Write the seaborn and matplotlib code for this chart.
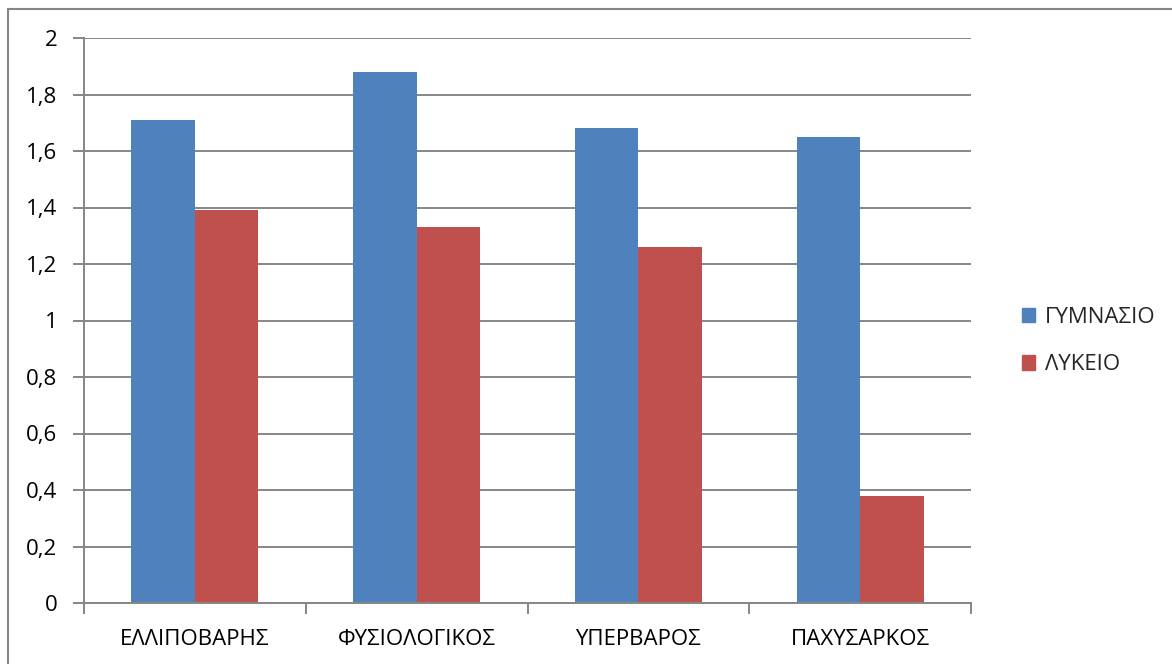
import matplotlib
matplotlib.use("Agg")
import matplotlib.pyplot as plt
from matplotlib.lines import Line2D
import pandas as pd
import seaborn as sns

categories = ["ΕΛΛΙΠΟΒΑΡΗΣ", "ΦΥΣΙΟΛΟΓΙΚΟΣ", "ΥΠΕΡΒΑΡΟΣ", "ΠΑΧΥΣΑΡΚΟΣ"]
gymnasio = [1.71, 1.88, 1.68, 1.65]
lykeio = [1.39, 1.33, 1.26, 0.38]
series_names = ["ΓΥΜΝΑΣΙΟ", "ΛΥΚΕΙΟ"]
series_colors = ["#4F81BD", "#C0504D"]
yticks = [0, 0.2, 0.4, 0.6, 0.8, 1.0, 1.2, 1.4, 1.6, 1.8, 2.0]
ytick_labels = ["0", "0,2", "0,4", "0,6", "0,8", "1", "1,2", "1,4", "1,6", "1,8", "2"]

df = pd.DataFrame({
    "category": categories * 2,
    "value": gymnasio + lykeio,
    "series": [series_names[0]] * len(categories) + [series_names[1]] * len(categories),
})

sns.set_theme(style="white")
plt.rcParams["font.family"] = ["Open Sans", "DejaVu Sans"]

fig = plt.figure(figsize=(11.72, 6.64), dpi=100)
ax = fig.add_axes([84 / 1172, 1 - 603 / 664, (971 - 84) / 1172, (603 - 38) / 664])

grid_color = "#868686"
fs = 16
ax.set_axisbelow(True)
ax.yaxis.grid(True, color=grid_color, linewidth=1.4)

sns.barplot(data=df, x="category", y="value", hue="series", order=categories,
            hue_order=series_names, palette=series_colors, width=0.573,
            saturation=1, edgecolor="none", linewidth=0, ax=ax, legend=False)

ax.set_xlim(-0.5, len(categories) - 0.5)
ax.set_ylim(0, 2)
ax.set_yticks(yticks)
ax.set_yticklabels(ytick_labels, fontsize=fs, color="#000000")
ax.set_xticks([i - 0.5 for i in range(len(categories) + 1)], minor=True)
ax.set_xticks(range(len(categories)))
ax.set_xticklabels(categories, fontsize=fs, color="#000000")
ax.tick_params(axis="x", which="major", bottom=True, length=0, pad=19)
ax.tick_params(axis="x", which="minor", bottom=True, length=8, width=1.4,
               color=grid_color, direction="out")
ax.tick_params(axis="y", which="major", left=True, length=8, width=1.4,
               color=grid_color, direction="out", pad=11)
ax.set_xlabel("")
ax.set_ylabel("")

for side in ["top", "right"]:
    ax.spines[side].set_visible(False)
for side in ["left", "bottom"]:
    ax.spines[side].set_color(grid_color)
    ax.spines[side].set_linewidth(1.4)

handles = [plt.Rectangle((0, 0), 1, 1, color=c) for c in series_colors]
fig.legend(handles, series_names, loc="center left", bbox_to_anchor=(1002 / 1172, 1 - 341 / 664),
           frameon=False, fontsize=fs, handlelength=0.6, handleheight=0.6,
           handletextpad=0.45, labelspacing=1.2)

# outer chart border (top and left edges)
fig.add_artist(Line2D([8 / 1172, 1], [1 - 9 / 664, 1 - 9 / 664], color=grid_color, linewidth=1.5,
                      transform=fig.transFigure))
fig.add_artist(Line2D([8 / 1172, 8 / 1172], [0, 1 - 9 / 664], color=grid_color, linewidth=1.5,
                      transform=fig.transFigure))

fig.savefig("out.png", dpi=100)
